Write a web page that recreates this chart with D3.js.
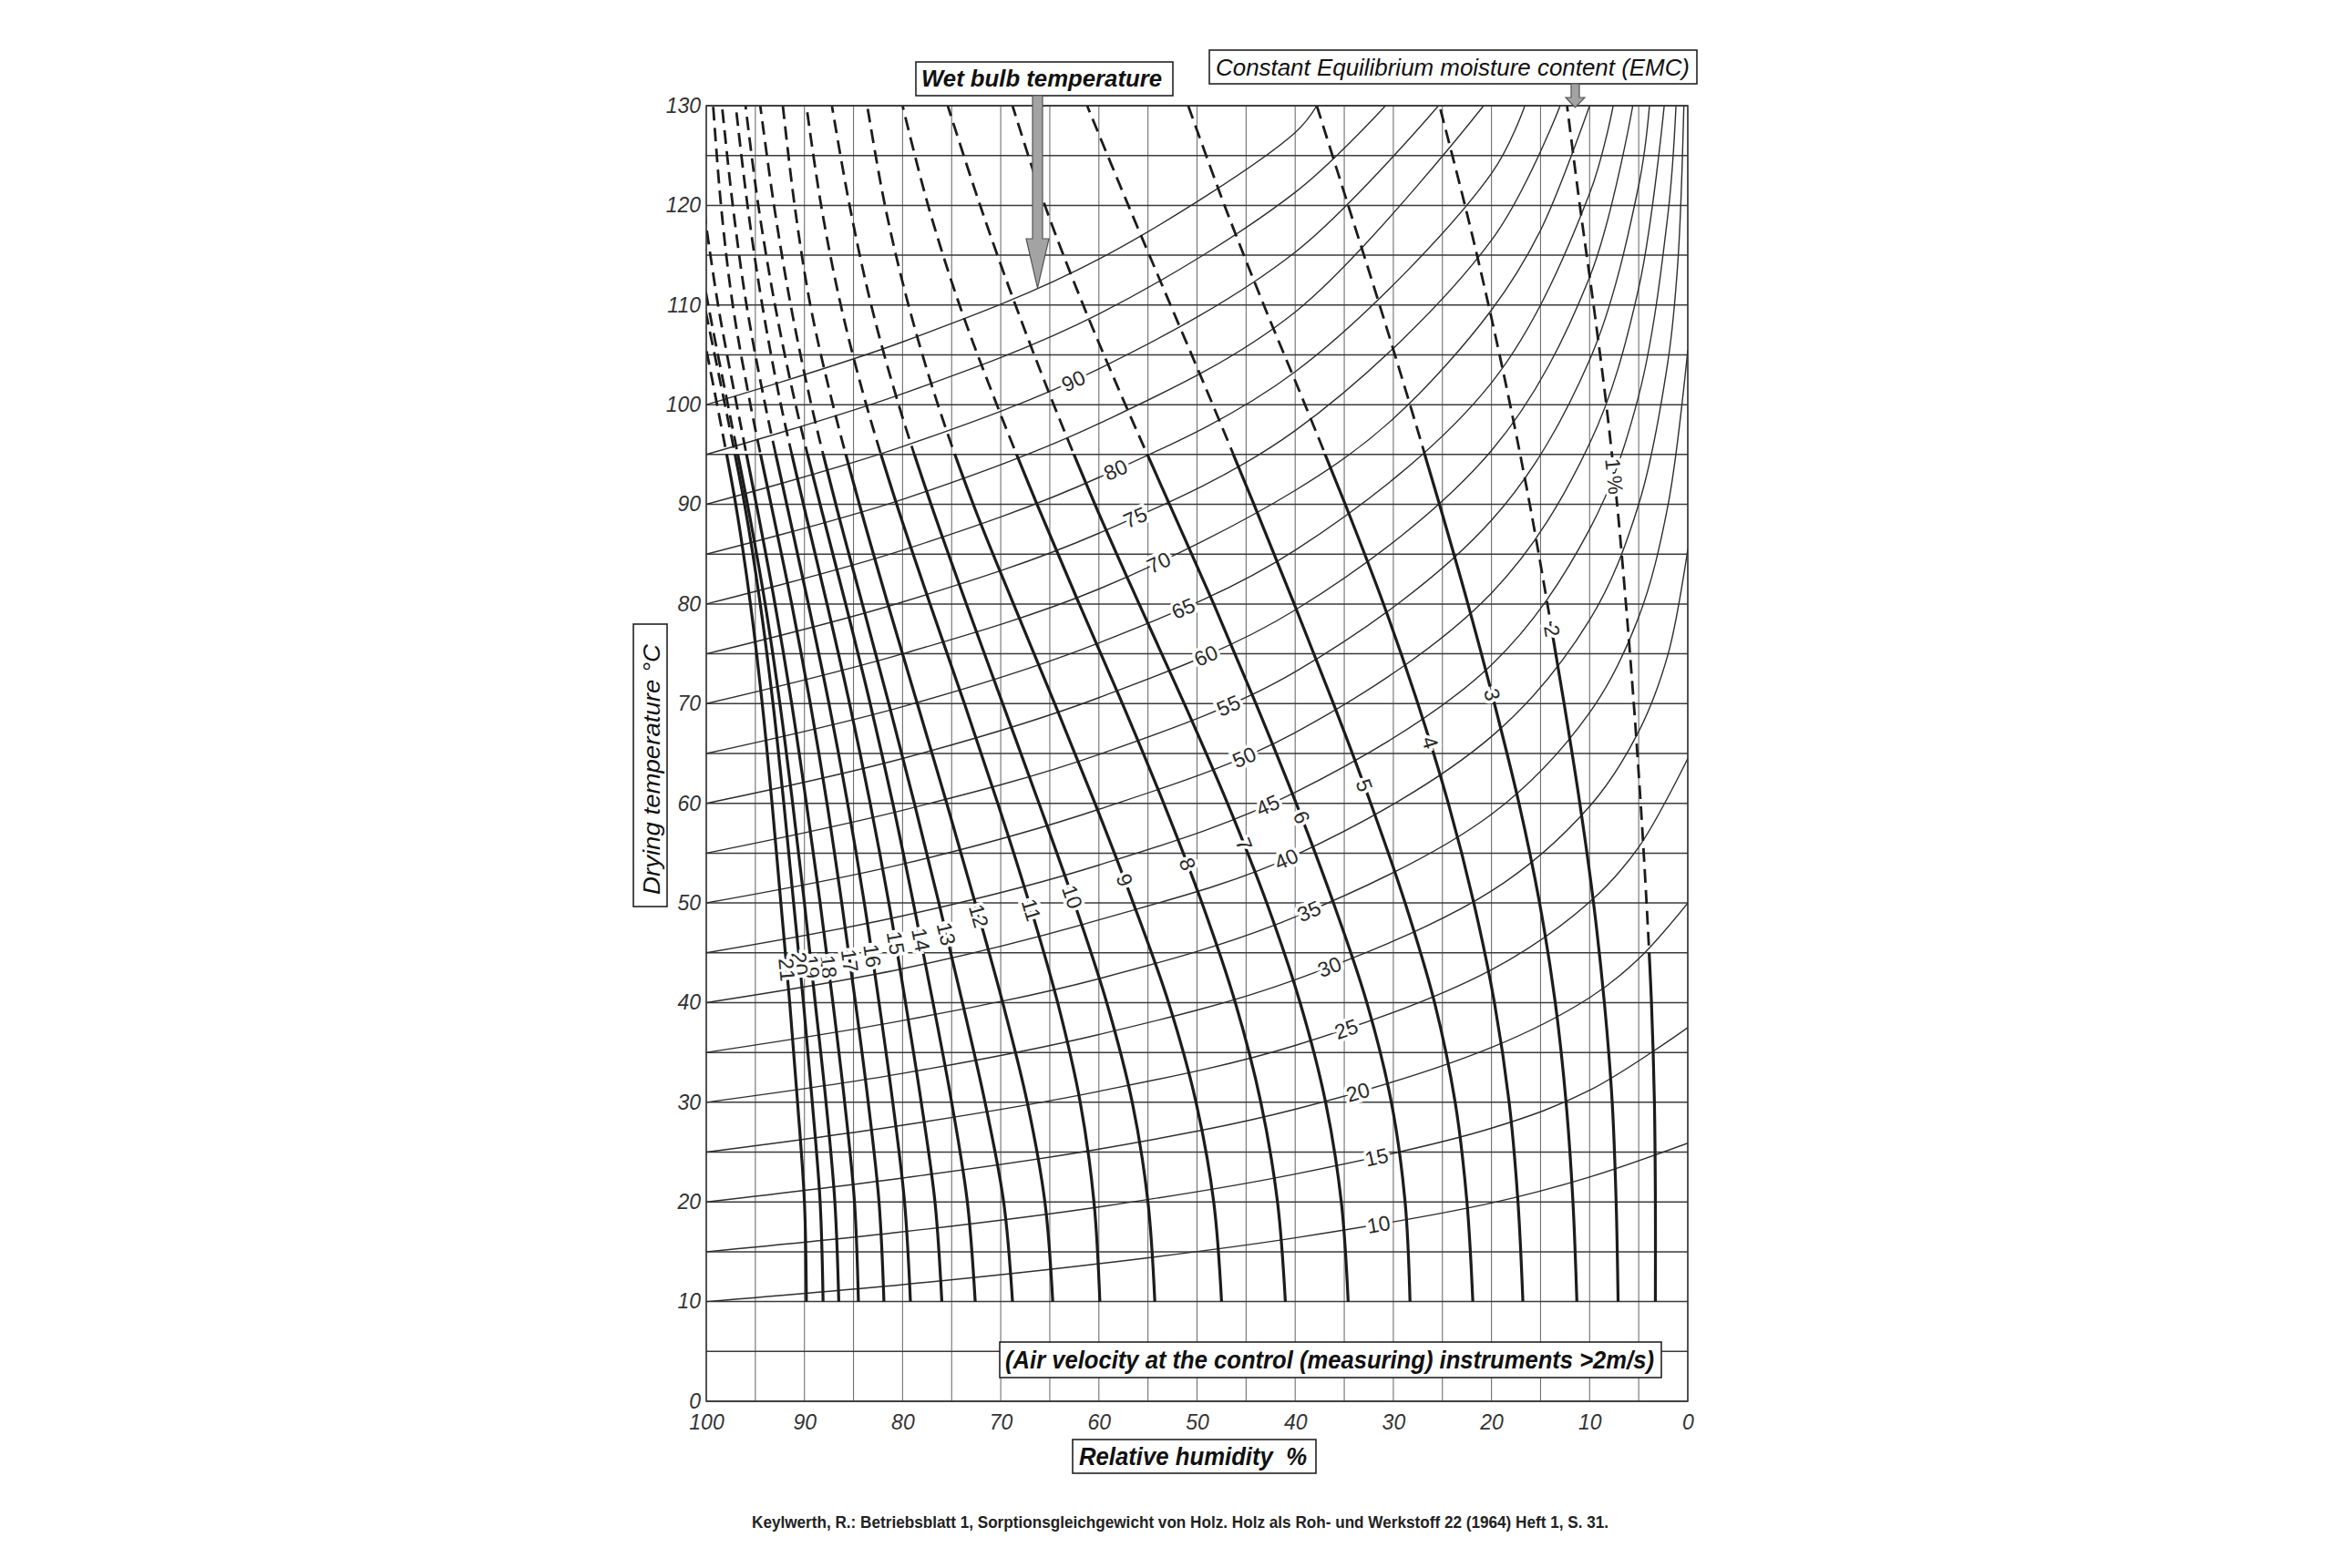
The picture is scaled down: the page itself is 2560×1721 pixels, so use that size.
<!DOCTYPE html>
<html>
<head>
<meta charset="utf-8">
<script src="https://cdn.jsdelivr.net/npm/d3@7/dist/d3.min.js"></script>
<style>
html, body { margin: 0; padding: 0; background: #fff; }
svg { display: block; }
text { font-family: "Liberation Sans", Arial, sans-serif; }
</style>
</head>
<body>
<svg id="chart" width="2560" height="1721"></svg>
<script>
// Keylwerth diagram: EMC of wood vs. drying temperature and relative humidity

// dry bulb temperatures at which the EMC curves were read
var emcTemps = [10, 20, 30, 40, 50, 60, 70, 80, 90, 100, 110, 120, 130];

// relative humidity (%) of each constant-EMC curve at those temperatures
var emc1  = [3.3, 3.3, 3.4, 3.7, 4.2, 4.8, 5.5, 6.3, 7.2, 8.3, 9.6, 11.0, 12.3];
var emc2  = [7.1, 7.3, 7.7, 8.5, 9.6, 11.0, 12.6, 14.3, 16.1, 18.1, 20.3, 22.7, 25.3];
var emc3  = [11.3, 11.7, 12.4, 13.5, 15.1, 17.2, 19.7, 22.4, 25.3, 28.3, 31.4, 34.6, 37.8];
var emc4  = [16.8, 17.3, 18.2, 19.7, 21.8, 24.4, 27.5, 31.0, 34.9, 39.0, 43.2, 47.2, 50.9];
var emc5  = [21.9, 22.5, 23.7, 25.8, 28.8, 32.3, 36.1, 40.1, 44.2, 48.4, 52.7, 57.0, 61.2];
var emc6  = [28.3, 28.8, 30.2, 32.7, 36.1, 39.9, 44.0, 48.3, 52.8, 57.3, 61.6, 65.5, 68.8];
var emc7  = [34.6, 35.3, 36.9, 39.5, 42.9, 46.9, 51.3, 55.9, 60.4, 64.6, 68.5, 72.1, 75.4];
var emc8  = [41.0, 41.8, 43.5, 46.1, 49.5, 53.4, 57.6, 62.0, 66.3, 70.4, 74.2, 77.4, 80.0];
var emc9  = [47.5, 48.3, 50.1, 52.9, 56.5, 60.4, 64.5, 68.7, 72.8, 76.4, 79.4, 81.8, 83.6];
var emc10 = [54.3, 55.0, 56.6, 59.2, 62.5, 66.1, 69.8, 73.5, 77.1, 80.4, 83.2, 85.4, 87.2];
var emc11 = [59.9, 60.5, 61.9, 64.2, 67.1, 70.3, 73.7, 77.2, 80.6, 83.7, 86.3, 88.3, 89.8];
var emc12 = [64.7, 65.5, 67.3, 69.8, 72.6, 75.5, 78.5, 81.5, 84.4, 87.1, 89.4, 91.0, 92.2];
var emc13 = [68.8, 69.7, 71.6, 73.9, 76.3, 78.8, 81.4, 84.1, 86.8, 89.3, 91.4, 93.1, 94.5];
var emc14 = [72.6, 73.4, 75.0, 76.9, 78.9, 81.0, 83.3, 85.8, 88.4, 90.9, 93.0, 94.7, 96.0];
var emc15 = [76.0, 76.7, 78.1, 79.7, 81.4, 83.3, 85.4, 87.7, 90.1, 92.4, 94.3, 95.8, 97.0];
var emc16 = [79.2, 79.8, 81.0, 82.4, 83.9, 85.6, 87.5, 89.6, 91.8, 94.0, 95.9, 97.3, 98.4];
var emc17 = [81.9, 82.4, 83.5, 84.8, 86.2, 87.7, 89.4, 91.3, 93.4, 95.5, 97.3, 98.5, 99.3];
var emc18 = [84.5, 84.9, 85.9, 87.1, 88.4, 89.8, 91.3, 93.0, 94.9, 96.9, 98.8, 100.3];
var emc19 = [86.5, 86.9, 87.8, 88.9, 90.0, 91.2, 92.5, 94.0, 95.8, 97.8, 99.8, 101.6];
var emc20 = [88.1, 88.4, 89.2, 90.1, 91.1, 92.1, 93.2, 94.5, 96.1, 98.1, 100.2];
var emc21 = [89.8, 90.0, 90.7, 91.5, 92.4, 93.3, 94.3, 95.5, 97.0, 98.9, 100.9];

var emcValues = [1, 2, 3, 4, 5, 6, 7, 8, 9, 10, 11, 12, 13, 14, 15, 16, 17, 18, 19, 20, 21];
// temperature above which each EMC curve is drawn dashed
var emcDashFrom = [45, 78, 95, 95, 95, 95, 95, 95, 95, 95, 95, 95, 95, 95, 95, 95, 95, 95, 95, 95, 95];
// temperature where each EMC label sits on its curve
var emcLabelT = [92.8, 77.3, 70.9, 66.1, 61.8, 58.6, 55.9, 53.9, 52.3, 50.6, 49.3, 48.7, 46.9, 46.3, 46.0, 44.7, 44.2, 43.6, 43.6, 43.9, 43.3];

// wet bulb lines: [relative humidity %, dry bulb temperature]
var wb10  = [[100,10],[80,11.7],[60,13.8],[40,16.4],[20,19.9],[10,22.5],[0,25.9]];
var wb15  = [[100,15],[80,17.0],[60,19.5],[40,22.8],[20,27.4],[10,31.2],[0,37.5]];
var wb20  = [[100,20],[80,22.4],[60,25.3],[40,29.3],[20,35.5],[10,40.5],[5,44.4],[0,50.0]];
var wb25  = [[100,25],[80,27.7],[60,31.1],[40,35.7],[20,43.3],[10,50.1],[5,55.6],[0,64.5]];
var wb30  = [[100,30],[80,32.9],[60,36.8],[40,42.3],[20,51.2],[10,59.7],[5,67.2],[2,75.0],[0,85.5]];
var wb35  = [[100,35],[80,38.2],[60,42.4],[40,48.6],[20,58.9],[10,69.1],[5,78.7],[2,90.0],[0,105.5]];
var wb40  = [[100,40],[80,43.4],[60,48.3],[40,54.8],[20,66.7],[10,78.4],[5,90.0],[2,104.5],[1,114.5],[0.4,130]];
var wb45  = [[100,45],[80,48.7],[60,53.8],[40,61.1],[20,73.9],[10,87.5],[5,100.9],[2,119.3],[1.2,130]];
var wb50  = [[100,50],[80,53.9],[60,59.4],[40,67.1],[20,81.1],[10,96.1],[5,111.7],[2.4,130]];
var wb55  = [[100,55],[80,59.3],[60,64.9],[40,73.2],[20,88.4],[10,104.5],[5,122.0],[3.9,130]];
var wb60  = [[100,60],[80,64.5],[60,70.6],[40,79.4],[20,95.4],[10,112.8],[5.6,130]];
var wb65  = [[100,65],[80,69.7],[60,76.1],[40,85.4],[20,102.2],[10,121.2],[7.6,130]];
var wb70  = [[100,70],[80,75.0],[60,81.5],[40,91.4],[30,98.6],[20,109.5],[15,117.5],[10.0,130]];
var wb75  = [[100,75],[80,80.2],[60,87.1],[40,97.4],[20,116.5],[13.0,130]];
var wb80  = [[100,80],[80,85.4],[60,92.7],[40,103.3],[20,123.2],[16.6,130]];
var wb85  = [[100,85],[80,90.5],[60,98.1],[40,109.3],[20.8,130]];
var wb90  = [[100,90],[80,95.8],[60,103.6],[40,115.3],[25.4,130]];
var wb95  = [[100,95],[80,101.1],[60,109.1],[40,121.3],[30.8,130]];
var wb100 = [[100,100],[80,106.3],[60,114.6],[40,127.3],[37.8,130]];

var wbValues = [10, 15, 20, 25, 30, 35, 40, 45, 50, 55, 60, 65, 70, 75, 80, 85, 90, 95, 100];
// relative humidity where each wet bulb label sits (null = no label)
var wbLabelRH = [31.5, 31.7, 33.6, 34.8, 36.5, 38.6, 40.9, 42.8, 45.2, 46.8, 49.1, 51.4, 53.9, 56.3, 58.3, null, 62.6, null, null];

var rhTicks = [100, 90, 80, 70, 60, 50, 40, 30, 20, 10, 0];
var tTicks = [0, 10, 20, 30, 40, 50, 60, 70, 80, 90, 100, 110, 120, 130];

var emcSeries = [emc1, emc2, emc3, emc4, emc5, emc6, emc7, emc8, emc9, emc10, emc11,
                 emc12, emc13, emc14, emc15, emc16, emc17, emc18, emc19, emc20, emc21];
var wbSeries = [wb10, wb15, wb20, wb25, wb30, wb35, wb40, wb45, wb50, wb55,
                wb60, wb65, wb70, wb75, wb80, wb85, wb90, wb95, wb100];

var plot = { left: 775, right: 1852, top: 116, bottom: 1538 };

var x = d3.scaleLinear().domain([100, 0]).range([plot.left, plot.right]);
var y = d3.scaleLinear().domain([0, 130]).range([plot.bottom, plot.top]);

var svg = d3.select('#chart');
svg.append('rect').attr('width', 2560).attr('height', 1721).attr('fill', '#fff');

var defs = svg.append('defs');
defs.append('clipPath').attr('id', 'plotClip')
    .append('rect')
    .attr('x', plot.left).attr('y', plot.top)
    .attr('width', plot.right - plot.left).attr('height', plot.bottom - plot.top);

// clip regions below / above each dash change temperature
Array.from(new Set(emcDashFrom)).forEach(function (t) {
    defs.append('clipPath').attr('id', 'solid' + t)
        .append('rect')
        .attr('x', plot.left - 5).attr('y', y(t))
        .attr('width', plot.right - plot.left + 10).attr('height', plot.bottom - y(t) + 5);
    defs.append('clipPath').attr('id', 'dash' + t)
        .append('rect')
        .attr('x', plot.left - 5).attr('y', plot.top - 5)
        .attr('width', plot.right - plot.left + 10).attr('height', y(t) - plot.top + 5);
});

// grid
var grid = svg.append('g');
grid.selectAll('line.v')
    .data(d3.range(0, 101, 5))
    .enter().append('line')
    .attr('class', 'v')
    .attr('x1', function (d) { return x(d); }).attr('x2', function (d) { return x(d); })
    .attr('y1', plot.top).attr('y2', plot.bottom)
    .attr('stroke', '#707070').attr('stroke-width', 1.1);
grid.selectAll('line.h')
    .data(d3.range(0, 131, 5))
    .enter().append('line')
    .attr('class', 'h')
    .attr('x1', plot.left).attr('x2', plot.right)
    .attr('y1', function (d) { return y(d); }).attr('y2', function (d) { return y(d); })
    .attr('stroke', '#3a3a3a').attr('stroke-width', 1.5);

var curve = d3.curveCatmullRom.alpha(0.5);

// wet bulb lines
var wbLine = d3.line()
    .x(function (d) { return x(d[0]); })
    .y(function (d) { return y(d[1]); })
    .curve(curve);

var wbG = svg.append('g').attr('clip-path', 'url(#plotClip)');
var wbPaths = wbG.selectAll('path')
    .data(wbSeries)
    .enter().append('path')
    .attr('d', wbLine)
    .attr('fill', 'none')
    .attr('stroke', '#2e2e2e')
    .attr('stroke-width', 1.4);

// EMC curves, solid below and dashed above their dash temperature
var emcLine = d3.line()
    .x(function (d) { return x(d[1]); })
    .y(function (d) { return y(d[0]); })
    .curve(curve);

var emcG = svg.append('g').attr('clip-path', 'url(#plotClip)');
var emcNodes = [];
emcSeries.forEach(function (s, i) {
    var pts = s.map(function (v, j) { return [emcTemps[j], v]; });
    var t = emcDashFrom[i];
    emcG.append('g').attr('clip-path', 'url(#solid' + t + ')')
        .append('path')
        .attr('d', emcLine(pts))
        .attr('fill', 'none')
        .attr('stroke', '#1c1c1c')
        .attr('stroke-width', 3.2);
    var dp = emcG.append('g').attr('clip-path', 'url(#dash' + t + ')')
        .append('path')
        .attr('d', emcLine(pts))
        .attr('fill', 'none')
        .attr('stroke', '#1c1c1c')
        .attr('stroke-width', 2.8)
        .attr('stroke-dasharray', '15,8');
    emcNodes.push(dp.node());
});

// find a point on a path by screen y (path runs bottom -> top)
function pointAtY(node, ty) {
    var lo = 0, hi = node.getTotalLength();
    for (var k = 0; k < 40; k++) {
        var mid = (lo + hi) / 2;
        if (node.getPointAtLength(mid).y > ty) lo = mid; else hi = mid;
    }
    return lo;
}
// find a point on a path by screen x (path runs left -> right)
function pointAtX(node, tx) {
    var lo = 0, hi = node.getTotalLength();
    for (var k = 0; k < 40; k++) {
        var mid = (lo + hi) / 2;
        if (node.getPointAtLength(mid).x < tx) lo = mid; else hi = mid;
    }
    return lo;
}

var labelG = svg.append('g')
    .attr('font-size', 23)
    .attr('fill', '#2a2a2a')
    .attr('text-anchor', 'middle');

// EMC labels, written along the curve going down
emcNodes.forEach(function (node, i) {
    var len = pointAtY(node, y(emcLabelT[i]));
    var p = node.getPointAtLength(len);
    var a = node.getPointAtLength(Math.max(0, len - 4));
    var b = node.getPointAtLength(len + 4);
    var ang = Math.atan2(a.y - b.y, a.x - b.x) * 180 / Math.PI;
    labelG.append('text')
        .attr('transform', 'translate(' + p.x + ',' + p.y + ') rotate(' + ang + ')')
        .attr('dy', '0.35em')
        .attr('stroke', '#fff').attr('stroke-width', 7)
        .attr('paint-order', 'stroke')
        .style('white-space', 'pre')
        .text(emcValues[i] === 1 ? '1 %' : emcValues[i]);
});

// wet bulb labels
wbPaths.each(function (d, i) {
    if (wbLabelRH[i] === null) return;
    var node = this;
    var len = pointAtX(node, x(wbLabelRH[i]));
    var p = node.getPointAtLength(len);
    var a = node.getPointAtLength(Math.max(0, len - 4));
    var b = node.getPointAtLength(len + 4);
    var ang = Math.atan2(b.y - a.y, b.x - a.x) * 180 / Math.PI;
    labelG.append('text')
        .attr('transform', 'translate(' + p.x + ',' + p.y + ') rotate(' + ang + ')')
        .attr('dy', '0.35em')
        .attr('stroke', '#fff').attr('stroke-width', 7)
        .attr('paint-order', 'stroke')
        .text(wbValues[i]);
});

// axes (labels only)
var yAxis = svg.append('g')
    .attr('transform', 'translate(' + plot.left + ',0)')
    .call(d3.axisLeft(y).tickValues(tTicks).tickSize(0).tickPadding(6).tickFormat(d3.format('d')));
var xAxis = svg.append('g')
    .attr('transform', 'translate(0,' + plot.bottom + ')')
    .call(d3.axisBottom(x).tickValues(rhTicks).tickSize(0).tickPadding(15).tickFormat(d3.format('d')));
[yAxis, xAxis].forEach(function (g) {
    g.select('.domain').remove();
    g.selectAll('text')
        .attr('font-family', '"Liberation Sans", Arial, sans-serif')
        .attr('font-size', 23)
        .attr('font-style', 'italic')
        .attr('fill', '#333');
});

// plot frame
svg.append('rect')
    .attr('x', plot.left).attr('y', plot.top)
    .attr('width', plot.right - plot.left).attr('height', plot.bottom - plot.top)
    .attr('fill', 'none').attr('stroke', '#333').attr('stroke-width', 1.5);

// boxed captions
function box(x0, y0, x1, y1) {
    svg.append('rect')
        .attr('x', x0).attr('y', y0).attr('width', x1 - x0).attr('height', y1 - y0)
        .attr('fill', '#fff').attr('stroke', '#222').attr('stroke-width', 1.6);
}
function caption(txt, tx, ty, len, size, weight) {
    return svg.append('text')
        .attr('x', tx).attr('y', ty)
        .attr('font-size', size)
        .attr('font-style', 'italic')
        .attr('font-weight', weight)
        .attr('fill', '#111')
        .attr('textLength', len)
        .attr('lengthAdjust', 'spacingAndGlyphs')
        .style('white-space', 'pre')
        .text(txt);
}

box(1005, 68, 1287, 105);
caption('Wet bulb temperature', 1011, 95, 264, 25, 'bold');

box(1327, 55, 1862, 92);
caption('Constant Equilibrium moisture content (EMC)', 1334, 83, 520, 25, 'normal');

box(1097, 1473, 1823, 1512);
caption('(Air velocity at the control (measuring) instruments >2m/s)', 1103, 1502, 712, 27, 'bold');

box(1177, 1580, 1444, 1617);
caption('Relative humidity  %', 1184, 1608, 250, 27, 'bold');

box(695, 685, 732, 995);
svg.append('text')
    .attr('transform', 'translate(724,982) rotate(-90)')
    .attr('font-size', 26)
    .attr('font-style', 'italic')
    .attr('fill', '#111')
    .attr('textLength', 275)
    .attr('lengthAdjust', 'spacingAndGlyphs')
    .text('Drying temperature \u00B0C');

// arrows
svg.append('path')
    .attr('d', 'M1133,105 L1144,105 L1144,262 L1151,262 L1138.5,316 L1126,262 L1133,262 Z')
    .attr('fill', '#a3a3a3').attr('stroke', '#555').attr('stroke-width', 1.2);
svg.append('path')
    .attr('d', 'M1724,92 L1733,92 L1733,107 L1739,107 L1728.5,118 L1718,107 L1724,107 Z')
    .attr('fill', '#a3a3a3').attr('stroke', '#555').attr('stroke-width', 1.2);

// source line
svg.append('text')
    .attr('x', 825).attr('y', 1677)
    .attr('font-family', '"Liberation Sans Narrow", "Liberation Sans", Arial, sans-serif')
    .attr('font-size', 19)
    .attr('font-weight', 'bold')
    .attr('fill', '#222')
    .attr('textLength', 940)
    .attr('lengthAdjust', 'spacingAndGlyphs')
    .text('Keylwerth, R.: Betriebsblatt 1, Sorptionsgleichgewicht von Holz. Holz als Roh- und Werkstoff 22 (1964) Heft 1, S. 31.');
</script>
</body>
</html>
